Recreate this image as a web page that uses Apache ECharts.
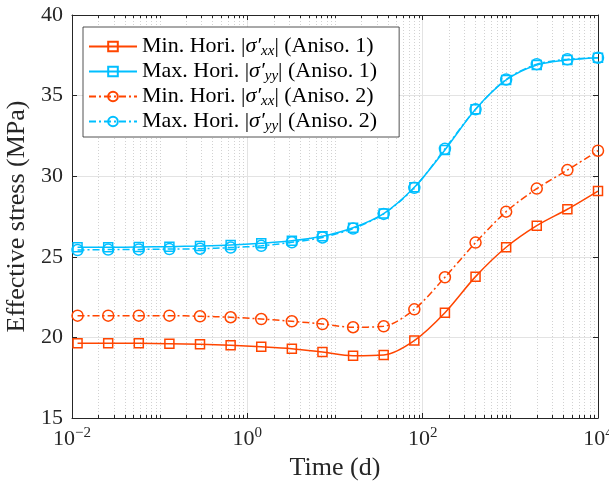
<!DOCTYPE html>
<html>
<head>
<meta charset="utf-8">
<script src="https://cdn.jsdelivr.net/npm/echarts@6/dist/echarts.min.js"></script>
<style>html,body{margin:0;padding:0;background:#fff;}#c{width:609px;height:483px;}</style>
</head>
<body>
<div id="c"></div>
<script>
// Time (d) of the plotted points
const times = [0.01157, 0.02587, 0.05779, 0.1291, 0.2885, 0.6449, 1.441, 3.220, 7.195, 16.08, 35.93, 80.30, 179.4, 401.0, 896.0, 2002, 4475, 10000];
// Effective stress (MPa)
const minHoriAniso1 = [19.63, 19.63, 19.63, 19.61, 19.57, 19.51, 19.42, 19.30, 19.09, 18.86, 18.91, 19.80, 21.53, 23.77, 25.59, 26.93, 27.95, 29.08];
const maxHoriAniso1 = [25.59, 25.59, 25.61, 25.63, 25.67, 25.73, 25.84, 25.99, 26.27, 26.80, 27.68, 29.31, 31.63, 34.15, 35.97, 36.90, 37.21, 37.35];
const minHoriAniso2 = [21.35, 21.35, 21.35, 21.35, 21.31, 21.25, 21.14, 21.00, 20.83, 20.63, 20.69, 21.74, 23.73, 25.88, 27.80, 29.23, 30.38, 31.58];
const maxHoriAniso2 = [25.42, 25.45, 25.46, 25.48, 25.50, 25.57, 25.68, 25.90, 26.20, 26.75, 27.66, 29.28, 31.70, 34.15, 36.00, 36.95, 37.25, 37.35];
const seriesNames = ['Min. Hori. (Aniso. 1)', 'Max. Hori. (Aniso. 1)', 'Min. Hori. (Aniso. 2)', 'Max. Hori. (Aniso. 2)'];
const legendRich = [
  'Min. Hori. |{it|σ′}{sub|xx}| (Aniso. 1)',
  'Max. Hori. |{it|σ′}{sub|yy}| (Aniso. 1)',
  'Min. Hori. |{it|σ′}{sub|xx}| (Aniso. 2)',
  'Max. Hori. |{it|σ′}{sub|yy}| (Aniso. 2)'
];
const yTicks = {min: 15, max: 40, interval: 5};
const xRange = {min: 0.01, max: 10000};

// minor log positions (axis structure)
const minorX = [];
for (let e = -2; e < 4; e++) {
  for (let m = 2; m <= 10; m++) {
    const v = m * Math.pow(10, e);
    if (m === 10 && (e + 1) % 2 === 0) continue;
    minorX.push([v, 15]);
  }
}

const FONT = 'Liberation Serif';
const AX = '#262626';
const RED = '#FF4500';
const BLUE = '#00BFFF';

function pairs(ys) { return times.map((t, i) => [t, ys[i]]); }

function lineSeries(name, ys, color, symbol, dashed) {
  return {
    name: name, type: 'line', data: pairs(ys), xAxisIndex: 0, yAxisIndex: 0,
    smooth: 0.3, symbol: symbol, symbolSize: symbol === 'rect' ? 9 : 11,
    showSymbol: true,
    lineStyle: {color: color, width: 1.5, type: dashed ? [7, 3, 2, 3] : 'solid'},
    itemStyle: {color: 'rgba(255,255,255,0)', borderColor: color, borderWidth: 1.5},
    emphasis: {disabled: true}, z: 3
  };
}

const chart = echarts.init(document.getElementById('c'), null, {renderer: 'canvas'});
chart.setOption({
  animation: false,
  backgroundColor: '#fff',
  textStyle: {fontFamily: FONT},
  grid: {left: 72, right: 11, top: 15, bottom: 65, containLabel: false, outerBoundsMode: 'none'},
  xAxis: [{
    type: 'log', logBase: 10, min: xRange.min, max: xRange.max, interval: 2, position: 'bottom',
    name: 'Time (d)', nameLocation: 'middle', nameGap: 35,
    nameTextStyle: {fontFamily: FONT, fontSize: 26, color: AX},
    axisLine: {show: true, onZero: false, lineStyle: {color: AX, width: 1}},
    axisTick: {show: true, inside: true, length: 5, lineStyle: {color: AX}},
    splitLine: {show: true, lineStyle: {color: '#e3e3e3', width: 1}},
    axisLabel: {
      margin: 8, color: AX, fontFamily: FONT, fontSize: 22,
      formatter: function (v) {
        const e = Math.round(Math.log10(v));
        return '10{sup|' + (e < 0 ? '−' + (-e) : e) + '}';
      },
      rich: {sup: {fontSize: 15, fontFamily: FONT, color: AX, verticalAlign: 'top', padding: [0, 0, 11, 0]}}
    }
  }, {
    type: 'log', logBase: 10, min: xRange.min, max: xRange.max, interval: 2, position: 'top',
    axisLine: {show: true, onZero: false, lineStyle: {color: AX, width: 1}},
    axisTick: {show: true, inside: true, length: 5, lineStyle: {color: AX}},
    axisLabel: {show: false}, splitLine: {show: false}
  }],
  yAxis: [{
    type: 'value', min: yTicks.min, max: yTicks.max, interval: yTicks.interval, position: 'left',
    name: 'Effective stress (MPa)', nameLocation: 'middle', nameGap: 38,
    nameTextStyle: {fontFamily: FONT, fontSize: 26, color: AX},
    axisLine: {show: true, onZero: false, lineStyle: {color: AX, width: 1}},
    axisTick: {show: true, inside: true, length: 5, lineStyle: {color: AX}},
    splitLine: {show: true, lineStyle: {color: '#e3e3e3', width: 1}},
    axisLabel: {margin: 9, color: AX, fontFamily: FONT, fontSize: 22}
  }, {
    type: 'value', min: yTicks.min, max: yTicks.max, interval: yTicks.interval, position: 'right',
    axisLine: {show: true, onZero: false, lineStyle: {color: AX, width: 1}},
    axisTick: {show: true, inside: true, length: 5, lineStyle: {color: AX}},
    axisLabel: {show: false}, splitLine: {show: false}
  }],
  legend: {
    data: seriesNames, orient: 'vertical', left: 83, top: 27,
    backgroundColor: '#fff', borderColor: AX, borderWidth: 0.8,
    padding: [7, 22, 3, 5], itemGap: 0, itemWidth: 48, itemHeight: 12,
    selectedMode: false,
    textStyle: {fontFamily: FONT, fontSize: 22, color: '#000', lineHeight: 25,
      rich: {
        it: {fontFamily: FONT, fontSize: 22, fontStyle: 'italic', color: '#000', lineHeight: 25},
        sub: {fontFamily: FONT, fontSize: 15, fontStyle: 'italic', color: '#000', verticalAlign: 'bottom', lineHeight: 25, padding: [9, 0, 0, 0]}
      }
    },
    formatter: function (name) { return legendRich[seriesNames.indexOf(name)]; }
  },
  series: [
    {
      type: 'custom', data: minorX, xAxisIndex: 0, yAxisIndex: 0, silent: true, z: 1,
      renderItem: function (params, api) {
        const x = api.value(0);
        const p0 = api.coord([x, yTicks.min]);
        const p1 = api.coord([x, yTicks.max]);
        const px = Math.round(p0[0]) + 0.5;
        return {type: 'group', children: [
          {type: 'line', shape: {x1: px, y1: p0[1], x2: px, y2: p1[1]}, style: {stroke: '#d2d2d2', lineWidth: 1, lineDash: [1, 2]}},
          {type: 'line', shape: {x1: px, y1: p0[1], x2: px, y2: p0[1] - 3}, style: {stroke: AX, lineWidth: 1}},
          {type: 'line', shape: {x1: px, y1: p1[1], x2: px, y2: p1[1] + 3}, style: {stroke: AX, lineWidth: 1}}
        ]};
      }
    },
    lineSeries(seriesNames[0], minHoriAniso1, RED, 'rect', false),
    lineSeries(seriesNames[1], maxHoriAniso1, BLUE, 'rect', false),
    lineSeries(seriesNames[2], minHoriAniso2, RED, 'circle', true),
    lineSeries(seriesNames[3], maxHoriAniso2, BLUE, 'circle', true)
  ]
});
</script>
</body>
</html>
